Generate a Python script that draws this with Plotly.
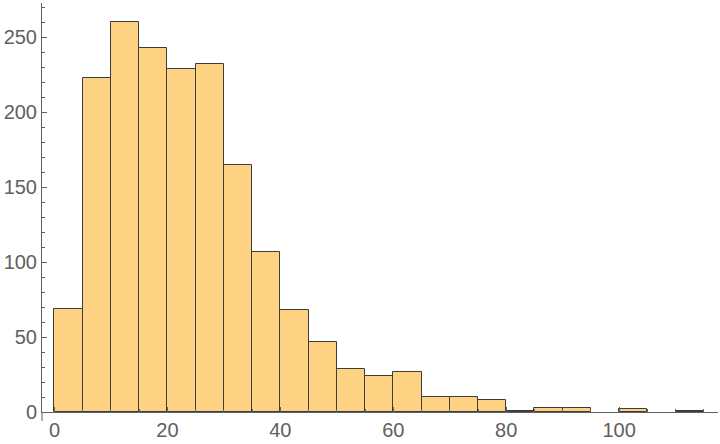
import plotly.graph_objects as go

bin_width = 5
bin_starts = [0, 5, 10, 15, 20, 25, 30, 35, 40, 45, 50, 55, 60, 65, 70, 75, 80, 85, 90, 95, 100, 105, 110]
counts = [69, 223, 260, 243, 229, 232, 165, 107, 68, 47, 29, 24, 27, 10, 10, 8, 1, 3, 3, 0, 2, 0, 1]
x_ticks = [0, 20, 40, 60, 80, 100]
y_ticks = [0, 50, 100, 150, 200, 250]

xs = [s + bin_width / 2 for s, c in zip(bin_starts, counts) if c > 0]
ys = [c for c in counts if c > 0]

fig = go.Figure()
fig.add_trace(go.Bar(
    x=xs, y=ys, width=bin_width,
    marker=dict(color="#FDD283", line=dict(color="#3c3c3c", width=1)),
    hoverinfo="x+y",
))

axis_color = "#606060"
font = dict(family="Liberation Sans, Arial, sans-serif", size=20, color="#606060")

fig.update_layout(
    width=720, height=444,
    margin=dict(l=41.5, r=2, t=3, b=32, autoexpand=False),
    plot_bgcolor="white", paper_bgcolor="white",
    showlegend=False, bargap=0,
    font=font,
    xaxis=dict(
        range=[-2.21, 117.5], tickvals=x_ticks, ticks="inside", ticklen=5,
        tickcolor=axis_color, showline=True, linecolor=axis_color, linewidth=1,
        showgrid=False, zeroline=False, tickfont=font, automargin=False,
        minor=dict(dtick=5, tick0=0, ticks="inside", ticklen=3, tickcolor=axis_color, showgrid=False),
    ),
    yaxis=dict(
        range=[0, 272.7], tickvals=y_ticks, ticks="inside", ticklen=5,
        tickcolor=axis_color, showline=True, linecolor=axis_color, linewidth=1,
        showgrid=False, zeroline=False, tickfont=font, automargin=False,
        minor=dict(dtick=10, tick0=0, ticks="inside", ticklen=3, tickcolor=axis_color, showgrid=False),
    ),
)

fig.add_shape(type="line", xref="x domain", yref="paper", x0=0, x1=0, y0=-0.022, y1=0,
              line=dict(color=axis_color, width=1))

fig.write_html("out.html", config={"displayModeBar": False},
               post_script="document.body.style.margin='0';")
